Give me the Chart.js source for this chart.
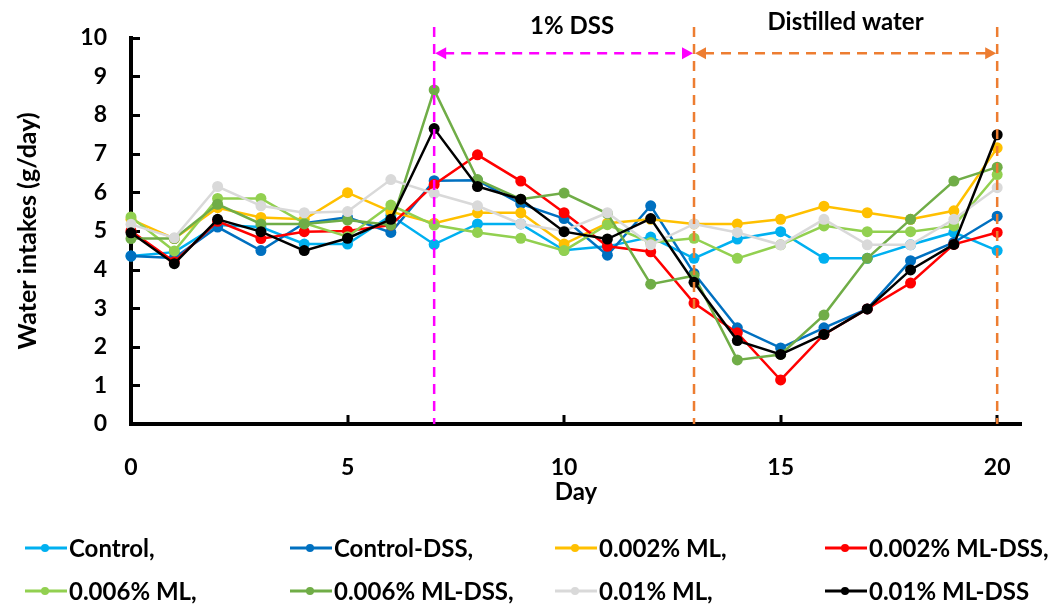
<!DOCTYPE html>
<html>
<head>
<meta charset="utf-8">
<title>Water intakes</title>
<script src="https://cdn.jsdelivr.net/npm/chart.js@4.4.1/dist/chart.umd.min.js"></script>
<style>
  body { margin: 0; background: #fff; }
  #wrap { width: 1054px; height: 607px; }
</style>
</head>
<body>
<div id="wrap"><canvas id="waterChart" width="1054" height="607"></canvas></div>
<script>
const days = [0, 1, 2, 3, 4, 5, 6, 7, 8, 9, 10, 11, 12, 13, 14, 15, 16, 17, 18, 19, 20];

const control       = [4.35, 4.45, 5.15, 5.1, 4.66, 4.66, 5.4, 4.65, 5.18, 5.18, 4.5, 4.6, 4.84, 4.29, 4.79, 4.98, 4.29, 4.29, 4.64, 4.96, 4.49];
const controlDss    = [4.35, 4.3, 5.1, 4.49, 5.2, 5.35, 4.96, 6.3, 6.31, 5.7, 5.32, 4.37, 5.65, 3.9, 2.49, 1.97, 2.49, 2.98, 4.23, 4.7, 5.38];
const ml002         = [5.3, 4.8, 5.6, 5.35, 5.3, 5.99, 5.5, 5.2, 5.47, 5.47, 4.66, 5.2, 5.3, 5.18, 5.18, 5.3, 5.64, 5.47, 5.3, 5.52, 7.15];
const ml002Dss      = [5.0, 4.2, 5.25, 4.8, 4.98, 5.0, 5.15, 6.2, 6.97, 6.29, 5.47, 4.6, 4.46, 3.13, 2.36, 1.14, 2.32, 2.98, 3.65, 4.65, 4.96];
const ml006         = [5.36, 4.48, 5.84, 5.84, 5.2, 4.85, 5.67, 5.15, 4.96, 4.81, 4.49, 5.16, 4.7, 4.81, 4.29, 4.64, 5.13, 4.98, 4.98, 5.13, 6.46];
const ml006Dss      = [4.8, 4.8, 5.69, 5.18, 5.18, 5.28, 5.15, 8.65, 6.33, 5.82, 5.98, 5.45, 3.62, 3.84, 1.66, 1.8, 2.82, 4.29, 5.3, 6.29, 6.65];
const ml01          = [5.17, 4.82, 6.15, 5.65, 5.47, 5.5, 6.33, 5.97, 5.65, 5.18, 5.0, 5.47, 4.64, 5.18, 4.96, 4.64, 5.3, 4.64, 4.64, 5.3, 6.12];
const ml01Dss       = [4.95, 4.15, 5.3, 4.98, 4.49, 4.81, 5.3, 7.65, 6.15, 5.82, 4.98, 4.79, 5.32, 3.67, 2.16, 1.8, 2.32, 2.98, 3.99, 4.65, 7.49];

const seriesLabels = ['Control,', 'Control-DSS,', '0.002% ML,', '0.002% ML-DSS,', '0.006% ML,', '0.006% ML-DSS,', '0.01% ML,', '0.01% ML-DSS'];
const seriesColors = ['#00B0F0', '#0070C0', '#FFC000', '#FF0000', '#92D050', '#70AD47', '#D9D9D9', '#000000'];
const seriesValues = [control, controlDss, ml002, ml002Dss, ml006, ml006Dss, ml01, ml01Dss];

// treatment phases: DSS from day 7 to 13, then water until day 20
const phaseBounds = [7, 13, 20];
const phaseLabels = ['1% DSS', 'Distilled water'];
const phaseColors = ['#FF00FF', '#ED7D31'];

const FONT = 'Lato, "Open Sans", sans-serif';

const datasets = seriesValues.map((vals, i) => ({
  label: seriesLabels[i],
  data: days.map((d, j) => ({ x: d, y: vals[j] })),
  borderColor: seriesColors[i],
  backgroundColor: seriesColors[i],
  borderWidth: 2.5,
  pointRadius: 5.5,
  pointHoverRadius: 5.5,
  pointBorderWidth: 0,
  tension: 0,
  clip: false,
  order: seriesValues.length - i,
}));

// inward tick marks on both axes
const innerTicks = {
  id: 'innerTicks',
  beforeDatasetsDraw(chart) {
    const { ctx, chartArea, scales: { x, y } } = chart;
    ctx.save();
    ctx.strokeStyle = '#000';
    ctx.lineWidth = 3;
    ctx.beginPath();
    y.ticks.forEach(t => {
      const py = Math.round(y.getPixelForValue(t.value)) + 0.5;
      ctx.moveTo(chartArea.left, py);
      ctx.lineTo(chartArea.left + 9, py);
    });
    x.ticks.forEach(t => {
      const px = Math.round(x.getPixelForValue(t.value));
      ctx.moveTo(px, chartArea.bottom);
      ctx.lineTo(px, chartArea.bottom - 9);
    });
    ctx.stroke();
    ctx.restore();
  }
};

function arrowHead(ctx, x, y, dir, color) {
  ctx.fillStyle = color;
  ctx.beginPath();
  ctx.moveTo(x, y);
  ctx.lineTo(x - dir * 11, y - 6);
  ctx.lineTo(x - dir * 11, y + 6);
  ctx.closePath();
  ctx.fill();
}

const phaseMarks = {
  id: 'phaseMarks',
  afterDatasetsDraw(chart) {
    const { ctx, chartArea, scales: { x, y } } = chart;
    const arrowY = y.getPixelForValue(9.6);
    const labelShift = [8, 0];
    const labelY = [26, 22];
    ctx.save();
    ctx.lineWidth = 2.5;
    ctx.setLineDash([10, 7]);
    // vertical dashed lines at each phase boundary
    phaseBounds.forEach((d, i) => {
      const px = x.getPixelForValue(d);
      ctx.strokeStyle = phaseColors[Math.min(i, phaseColors.length - 1)];
      ctx.beginPath();
      ctx.moveTo(px, 27);
      ctx.lineTo(px, chartArea.bottom);
      ctx.stroke();
    });
    // double arrows with labels
    for (let i = 0; i < phaseLabels.length; i++) {
      const x0 = x.getPixelForValue(phaseBounds[i]);
      const x1 = x.getPixelForValue(phaseBounds[i + 1]);
      ctx.strokeStyle = phaseColors[i];
      ctx.setLineDash([10, 7]);
      ctx.beginPath();
      ctx.moveTo(x0 + 10, arrowY);
      ctx.lineTo(x1 - 10, arrowY);
      ctx.stroke();
      ctx.setLineDash([]);
      arrowHead(ctx, x0 + 1, arrowY, -1, phaseColors[i]);
      arrowHead(ctx, x1 - 1, arrowY, 1, phaseColors[i]);
      ctx.fillStyle = '#000';
      ctx.font = 'bold 24px ' + FONT;
      ctx.textAlign = 'center';
      ctx.textBaseline = 'middle';
      ctx.fillText(phaseLabels[i], (x0 + x1) / 2 + labelShift[i], labelY[i]);
    }
    ctx.restore();
  }
};

// four-column legend under the plot
const gridLegend = {
  id: 'gridLegend',
  afterDraw(chart) {
    const { ctx } = chart;
    const colX = [25, 290, 555, 825];
    const rowY = [548, 591];
    ctx.save();
    ctx.font = 'bold 24px ' + FONT;
    ctx.textBaseline = 'middle';
    ctx.textAlign = 'left';
    chart.data.datasets.forEach((ds, i) => {
      const lx = colX[i % 4];
      const ly = rowY[Math.floor(i / 4)];
      ctx.strokeStyle = ds.borderColor;
      ctx.lineWidth = 3;
      ctx.beginPath();
      ctx.moveTo(lx, ly);
      ctx.lineTo(lx + 42, ly);
      ctx.stroke();
      ctx.fillStyle = ds.borderColor;
      ctx.beginPath();
      ctx.arc(lx + 20, ly, 4, 0, Math.PI * 2);
      ctx.fill();
      ctx.fillStyle = '#000';
      ctx.fillText(ds.label, lx + 44, ly + 1);
    });
    ctx.restore();
  }
};

const ctx = document.getElementById('waterChart').getContext('2d');
new Chart(ctx, {
  type: 'line',
  data: { datasets: datasets },
  options: {
    responsive: false,
    animation: false,
    events: [],
    layout: { padding: { top: 37, right: 33, bottom: 0, left: 0 } },
    plugins: { legend: { display: false }, tooltip: { enabled: false } },
    scales: {
      x: {
        type: 'linear',
        min: 0,
        max: 20.55,
        grid: { display: false, drawTicks: false },
        border: { display: true, color: '#000', width: 4 },
        ticks: {
          stepSize: 5,
          includeBounds: false,
          padding: 30,
          color: '#000',
          font: { family: FONT, size: 23, weight: 'bold' },
        },
        title: {
          display: true,
          text: 'Day',
          color: '#000',
          padding: { top: 0, bottom: 100 },
          font: { family: FONT, size: 24, weight: 'bold' },
        },
        afterFit(scale) { scale.height = 183; },
      },
      y: {
        min: 0,
        max: 10,
        grid: { display: false, drawTicks: false },
        border: { display: true, color: '#000', width: 4 },
        ticks: {
          stepSize: 1,
          padding: 24,
          color: '#000',
          font: { family: FONT, size: 23, weight: 'bold' },
        },
        title: {
          display: true,
          text: 'Water intakes (g/day)',
          color: '#000',
          padding: { top: 13, bottom: 0 },
          font: { family: FONT, size: 25, weight: 'bold' },
        },
        afterFit(scale) { scale.width = 131; },
      },
    },
  },
  plugins: [innerTicks, phaseMarks, gridLegend],
});
</script>
</body>
</html>
